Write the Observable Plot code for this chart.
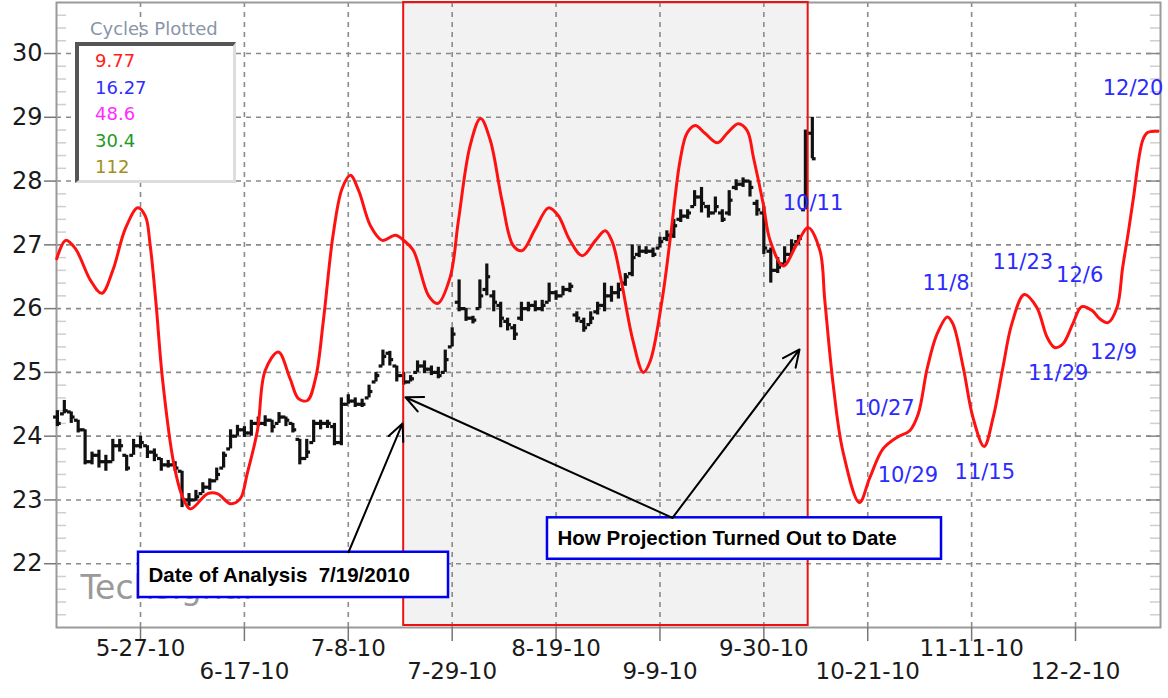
<!DOCTYPE html>
<html>
<head>
<meta charset="utf-8">
<script src="https://cdn.jsdelivr.net/npm/d3@7"></script>
<script src="https://cdn.jsdelivr.net/npm/@observablehq/plot@0.6"></script>
<style>
  html, body { margin: 0; padding: 0; background: #fff; }
  #wrap { position: relative; width: 1168px; height: 698px; font-family: "DejaVu Sans", sans-serif; }
  #legendTitle { position: absolute; left: 90px; top: 18px; font-size: 18px; color: #8795a8; white-space: nowrap; }
  #legendBox { position: absolute; left: 75px; top: 42px; width: 154px; height: 134px;
    border-top: 4px solid #555; border-left: 4px solid #555; border-right: 3px solid #ddd; border-bottom: 3px solid #ddd;
    background: #fff; }
  #legendBox div { position: absolute; left: 16px; font-size: 18px; line-height: 20px; }
</style>
</head>
<body>
<div id="wrap"></div>
<script>
// x positions are trading days (weekdays) counted from 2010-05-27 (day 0)
const tickDays   = [0, 15, 30, 45, 60, 75, 90, 105, 120, 135];
const tickLabels = ["5-27-10","6-17-10","7-8-10","7-29-10","8-19-10","9-9-10","9-30-10","10-21-10","11-11-10","12-2-10"];
const yTicks = [22, 23, 24, 25, 26, 27, 28, 29, 30];

// daily price bars, first bar is trading day -12 (2010-05-11), last is day 97 (2010-10-11)
const firstBarDay = -12;
const opens  = [24.3,24.35,24.38,24.25,24.1,23.6,23.7,23.6,23.6,23.85,23.7,23.7,
  23.85,23.85,23.75,23.65,23.55,23.55,23.45,23.0,23.0,23.1,23.2,23.3,23.5,23.8,24.0,24.1,24.05,24.2,24.2,24.25,
  24.2,24.3,24.2,23.95,23.65,23.9,24.2,24.2,24.15,23.9,24.5,24.55,24.5,24.6,24.85,25.1,25.3,25.1,24.95,24.85,
  25.0,25.1,25.05,25.0,25.0,25.4,26.1,26.0,25.85,26.0,26.3,26.2,26.05,25.8,25.7,25.85,26.0,26.05,26.0,26.1,
  26.25,26.2,26.3,25.9,25.8,25.75,25.95,26.05,26.2,26.25,26.4,26.55,26.85,26.9,26.9,26.95,27.1,27.15,27.4,27.45,
  27.6,27.75,27.6,27.5,27.5,27.5,27.9,27.95,28.0,27.65,27.5,26.9,26.6,26.7,26.85,27.05,27.55,28.75];
const highs  = [24.4,24.56,24.38,24.25,24.1,23.75,23.78,23.7,23.95,23.95,23.7,23.95,
  24.0,23.85,23.8,23.65,23.62,23.6,23.45,23.1,23.15,23.27,23.33,23.5,23.75,24.1,24.17,24.15,24.25,24.3,24.32,24.25,
  24.37,24.3,24.2,23.95,23.95,24.25,24.25,24.25,24.2,24.6,24.65,24.6,24.58,24.8,25.0,25.35,25.33,25.1,25.0,24.95,
  25.18,25.18,25.1,25.08,25.35,25.7,26.45,26.0,25.88,26.45,26.7,26.28,26.1,25.85,25.75,26.1,26.1,26.12,26.13,26.4,
  26.28,26.35,26.4,25.95,25.85,25.95,26.1,26.4,26.35,26.4,26.55,27.0,26.98,26.97,26.95,27.12,27.22,27.4,27.55,27.55,
  27.85,27.9,27.62,27.75,27.55,27.85,28.02,28.05,28.0,27.7,27.6,26.95,26.8,26.97,27.08,27.15,28.8,29.0];
const lows   = [24.15,24.35,24.2,24.05,23.55,23.55,23.5,23.45,23.6,23.75,23.45,23.7,
  23.8,23.65,23.6,23.45,23.5,23.45,22.88,22.9,22.98,23.1,23.15,23.3,23.5,23.8,24.0,23.98,24.0,24.15,24.15,24.05,
  24.2,24.15,24.05,23.55,23.65,23.9,24.1,24.12,23.85,23.85,24.5,24.45,24.45,24.6,24.85,25.1,25.1,24.85,24.8,24.85,
  25.0,24.98,24.95,24.9,25.0,25.4,25.95,25.8,25.76,26.0,26.2,25.95,25.7,25.65,25.5,25.8,25.95,25.95,25.95,26.1,
  26.13,26.2,26.25,25.78,25.63,25.75,25.9,25.95,26.1,26.15,26.35,26.5,26.8,26.85,26.8,26.95,27.05,27.1,27.35,27.4,
  27.6,27.5,27.42,27.5,27.35,27.45,27.85,27.9,27.75,27.45,26.85,26.4,26.55,26.7,26.85,27.0,27.55,28.35];
const closes = [24.2,24.4,24.3,24.1,23.6,23.7,23.6,23.6,23.85,23.85,23.5,23.85,
  23.9,23.75,23.7,23.55,23.55,23.5,23.0,23.0,23.05,23.2,23.3,23.4,23.7,24.0,24.1,24.05,24.2,24.2,24.25,24.15,
  24.3,24.25,24.1,23.65,23.75,24.2,24.2,24.2,23.9,24.5,24.55,24.5,24.5,24.7,24.95,25.25,25.2,24.95,24.85,24.9,
  25.1,25.05,25.0,24.95,25.2,25.6,26.0,25.85,25.82,26.2,26.5,26.1,25.85,25.75,25.6,26.0,26.05,26.0,26.05,26.25,
  26.2,26.3,26.35,25.85,25.7,25.85,26.05,26.2,26.25,26.3,26.5,26.8,26.9,26.9,26.85,27.05,27.15,27.3,27.45,27.5,
  27.75,27.65,27.5,27.6,27.4,27.7,27.95,28.0,27.9,27.55,26.95,26.6,26.65,26.85,27.0,27.1,28.75,28.35];

// cycle projection (red line)
const projDays = [-12.1,-10.8,-9.4,-7.2,-5.6,-4.0,-2.2,-0.4,0.7,1.4,2.2,3.2,4.8,6.1,7.2,9.7,11.1,13.0,14.4,15.4,
  16.9,18.0,19.9,21.6,22.8,24.1,25.3,26.4,27.8,29.1,30.3,31.5,33.2,34.9,36.8,38.0,39.4,41.6,42.9,44.7,
  45.9,47.6,49.1,50.5,52.2,53.8,55.1,57.0,58.9,60.3,62.0,63.8,65.7,67.1,68.1,69.3,71.1,72.6,73.6,75.3,
  76.5,77.9,78.9,80.1,81.5,83.3,84.7,86.3,87.6,88.5,89.9,90.9,92.8,94.8,96.4,98.1,98.8,100.0,101.4,103.8,
  105.3,107.2,109.2,111.1,112.3,113.6,115.0,116.5,117.3,118.8,120.2,121.8,123.1,124.5,125.8,127.6,129.4,130.9,132.0,133.2,
  134.6,135.9,137.4,138.5,139.7,141.0,141.8,142.6,143.3,144.7,145.4,146.9];
const projValues = [26.78,27.07,26.94,26.44,26.24,26.6,27.25,27.58,27.45,26.99,26.13,24.87,23.57,23.04,22.86,23.1,23.1,22.94,23.02,23.41,
  24.1,25.03,25.32,24.9,24.59,24.56,24.92,25.81,27.15,27.88,28.09,27.85,27.3,27.07,27.15,27.07,26.91,26.2,26.08,26.49,
  27.38,28.56,28.98,28.64,27.69,26.99,26.91,27.25,27.58,27.46,27.07,26.83,27.07,27.22,27.05,26.5,25.5,25.0,25.18,26.13,
  27.11,28.32,28.75,28.87,28.75,28.6,28.75,28.9,28.79,28.37,27.65,27.07,26.67,27.02,27.27,26.91,26.13,24.82,23.77,22.96,
  23.35,23.8,23.98,24.09,24.35,25.07,25.6,25.87,25.76,25.07,24.29,23.84,24.29,25.07,25.76,26.22,26.02,25.55,25.39,25.45,
  25.76,26.03,25.97,25.84,25.78,26.02,26.64,27.18,27.69,28.64,28.76,28.78];

// turning-point date labels
const turnLabels = ["10/11","10/27","10/29","11/8","11/15","11/23","11/29","12/6","12/9","12/20"];
const turnDays   = [97.1,107.4,110.8,116.3,121.9,127.4,132.5,135.6,140.5,143.3];
const turnValues = [27.65,24.43,23.38,26.39,23.44,26.72,24.98,26.52,25.31,29.45];

// projection window shaded (from date of analysis to last bar)
const windowStart = 38.0, windowEnd = 96.4;

// annotation boxes
const noteTexts = ["Date of Analysis  7/19/2010", "How Projection Turned Out to Date"];
const noteX1 = [-0.29, 58.76], noteX2 = [44.47, 115.65];
const noteY1 = [21.47, 22.07], noteY2 = [22.18, 22.72];
const noteTextX = [1.16, 60.21], noteTextY = [21.81, 22.40];

// arrows
const arrowFrom = [[30.03, 22.18], [76.81, 22.72], [76.81, 22.72]];
const arrowTo   = [[37.83, 24.20], [38.26, 24.61], [95.15, 25.36]];

// watermark
const watermark = {text: "Techsignal", day: -8.66, value: 21.61};

// legend
const cycleLengths = ["9.77", "16.27", "48.6", "30.4", "112"];
const cycleColors  = ["#ff2020", "#2e2eff", "#ff2bff", "#1f9a1f", "#9e9020"];

// ---- build tables ----
const bars = closes.map((c, k) => ({day: firstBarDay + k, open: opens[k], high: highs[k], low: lows[k], close: c}));
const proj = projDays.map((d, k) => ({day: d, value: projValues[k]}));
const ticks = tickDays.map((d, k) => ({day: d, label: tickLabels[k], row: k % 2}));
const turns = turnLabels.map((t, k) => ({text: t, day: turnDays[k], value: turnValues[k]}));
const notes = noteTexts.map((t, k) => ({text: t, x1: noteX1[k], x2: noteX2[k], y1: noteY1[k], y2: noteY2[k], tx: noteTextX[k], ty: noteTextY[k]}));
const arrows = arrowFrom.map((f, k) => ({x1: f[0], y1: f[1], x2: arrowTo[k][0], y2: arrowTo[k][1]}));
const minorTicks = d3.range(21.2, 30.75, 0.2).filter(v => Math.abs(v - Math.round(v)) > 0.05);
const win = [{start: windowStart, end: windowEnd}];

const gridStyle = {stroke: "#8a8a8a", strokeOpacity: 1, strokeWidth: 1.6, strokeDasharray: "5,5"};

const chart = Plot.plot({
  width: 1168,
  height: 698,
  marginLeft: 56,
  marginRight: 8,
  marginTop: 2,
  marginBottom: 71,
  style: {fontFamily: "DejaVu Sans, sans-serif", background: "white", color: "#1a1a1a"},
  x: {type: "linear", domain: [-12.13, 147.27]},
  y: {domain: [21, 30.8]},
  marks: [
    Plot.rect(win, {x1: "start", x2: "end", fill: "#f2f2f2", insetBottom: 2}),
    Plot.gridY(yTicks, gridStyle),
    Plot.gridX(tickDays, gridStyle),
    Plot.tickY(minorTicks, {stroke: "#cfcfcf", strokeWidth: 1.5, insetRight: 1094}),
    Plot.tickY(minorTicks, {stroke: "#cfcfcf", strokeWidth: 1.5, insetLeft: 1094}),
    Plot.tickY(yTicks, {stroke: "#888", strokeWidth: 1.5, insetLeft: 1090}),
    Plot.frame({stroke: "#9a9a9a", strokeWidth: 2}),
    Plot.axisY(yTicks, {tickSize: 12, tickPadding: 2, fontSize: 24, tickFormat: d => String(d), stroke: "#777", strokeWidth: 1.5, label: null}),
    Plot.axisX(tickDays, {tickSize: 14, tickFormat: () => "", stroke: "#777", strokeWidth: 1.5, label: null}),
    Plot.text(ticks.filter(t => t.row === 0), {x: "day", text: "label", frameAnchor: "bottom", dy: 28, fontSize: 23, fill: "#1a1a1a"}),
    Plot.text(ticks.filter(t => t.row === 1), {x: "day", text: "label", frameAnchor: "bottom", dy: 51, fontSize: 23, fill: "#1a1a1a"}),
    // price bars
    Plot.ruleX(bars, {x: "day", y1: "low", y2: "high", stroke: "#111", strokeWidth: 3.2}),
    Plot.ruleY(bars, {y: "open", x1: d => d.day - 0.55, x2: "day", stroke: "#111", strokeWidth: 3.2}),
    Plot.ruleY(bars, {y: "close", x1: "day", x2: d => d.day + 0.55, stroke: "#111", strokeWidth: 3.2}),
    // projection
    Plot.line(proj, {x: "day", y: "value", stroke: "#ff1111", strokeWidth: 3, curve: "catmull-rom"}),
    Plot.rect(win, {x1: "start", x2: "end", fill: "none", stroke: "#ee1111", strokeWidth: 2, insetBottom: 2}),
    // turning point labels
    Plot.text(turns, {x: "day", y: "value", text: "text", fontSize: 21, fill: "#2b2bff"}),
    // watermark
    Plot.text([watermark], {x: "day", y: "value", text: "text", textAnchor: "start", fontSize: 33, fill: "#9a9a9a"}),
    // annotations
    Plot.rect(notes, {x1: "x1", x2: "x2", y1: "y1", y2: "y2", fill: "white", stroke: "#0000ee", strokeWidth: 2.5}),
    Plot.text(notes, {x: "tx", y: "ty", text: "text", textAnchor: "start", fontFamily: "Liberation Sans, Arial, sans-serif", fontWeight: "bold", fontSize: 20.5, fill: "#000"}),
    Plot.arrow(arrows, {x1: "x1", y1: "y1", x2: "x2", y2: "y2", stroke: "#000", strokeWidth: 2, headLength: 14, headAngle: 50})
  ]
});

const wrap = document.getElementById("wrap");
wrap.appendChild(chart);

const title = document.createElement("div");
title.id = "legendTitle";
title.textContent = "Cycles Plotted";
wrap.appendChild(title);

const box = document.createElement("div");
box.id = "legendBox";
cycleLengths.forEach((c, k) => {
  const d = document.createElement("div");
  d.textContent = c;
  d.style.color = cycleColors[k];
  d.style.top = (5 + k * 26.5) + "px";
  box.appendChild(d);
});
wrap.appendChild(box);
</script>
</body>
</html>
